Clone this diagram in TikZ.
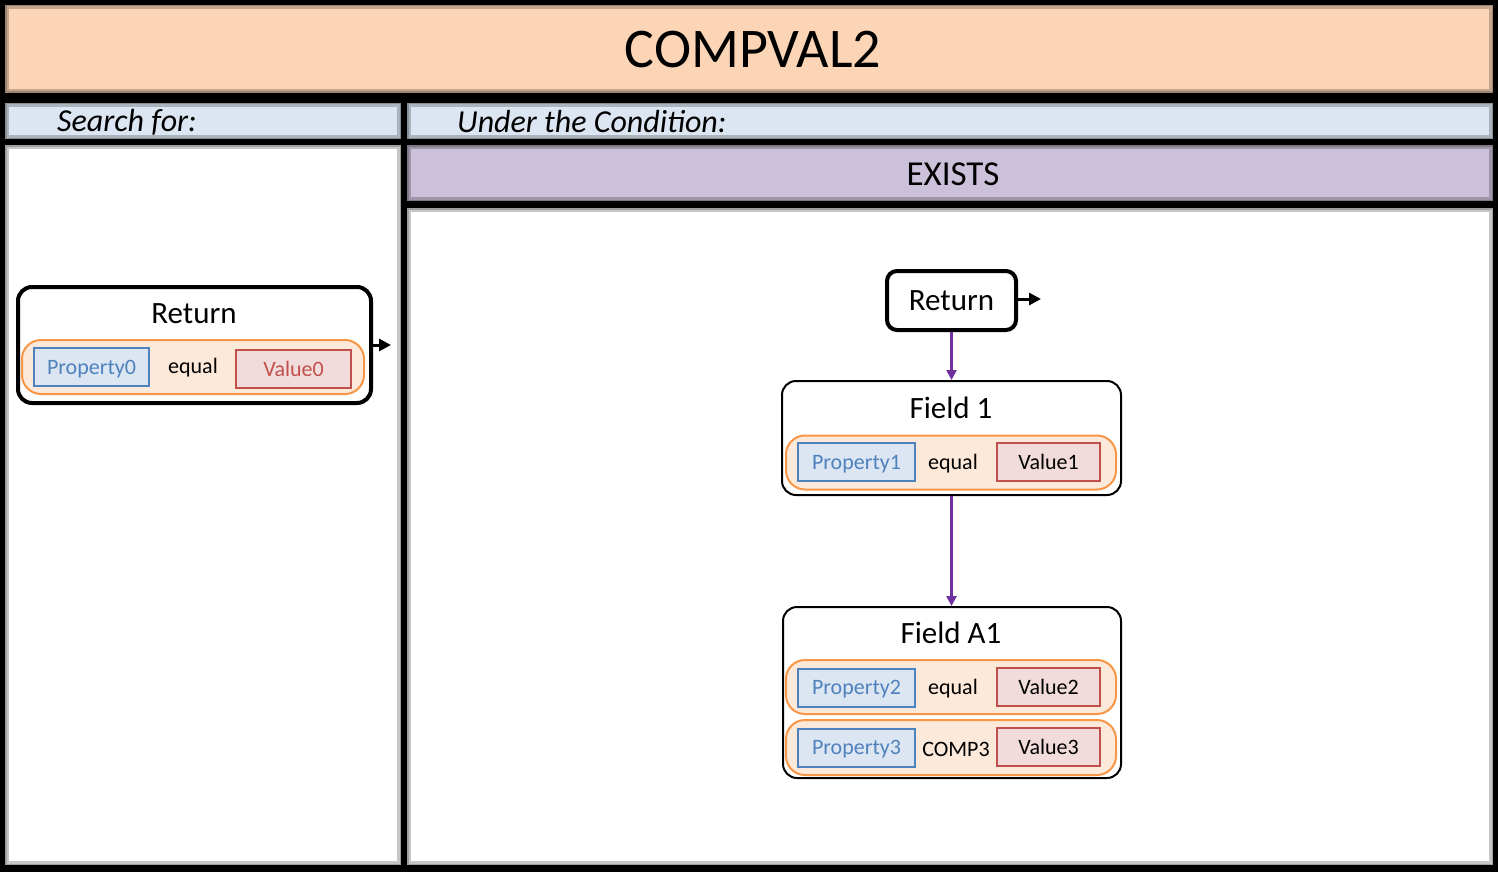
\documentclass[tikz,border=0pt]{standalone}
\usepackage{fontspec}
\setmainfont{Carlito}
\usepackage{tikz}
\usetikzlibrary{arrows.meta,positioning}
\definecolor{peach}{RGB}{251,213,181}
\definecolor{paleblue}{RGB}{220,230,242}
\definecolor{lavender}{RGB}{204,193,218}
\definecolor{rowfill}{RGB}{253,233,217}
\definecolor{rowedge}{RGB}{247,150,70}
\definecolor{propblue}{RGB}{79,129,189}
\definecolor{valfill}{RGB}{242,220,219}
\definecolor{valred}{RGB}{192,80,77}
\definecolor{flowpurple}{RGB}{112,48,160}
\newcommand{\fsz}[1]{\fontsize{#1}{#1}\selectfont}

\begin{document}
\begin{tikzpicture}[x=1pt,y=-1pt,
          panel/.style={draw=black,draw opacity=0.22,line width=8pt,inner sep=0pt,
                        postaction={draw=black,draw opacity=0.2,line width=3pt}},
          retbox/.style={draw=black,fill=white,line width=4pt,rounded corners=14pt,inner sep=0pt},
          fieldbox/.style={draw=black,fill=white,line width=2pt,rounded corners=14pt,inner sep=0pt},
          condrow/.style={draw=rowedge,fill=rowfill,line width=2pt,rounded corners=19pt,
                          minimum width=330pt,minimum height=54pt,inner sep=0pt},
          propbox/.style={draw=propblue,fill=paleblue,line width=2pt,text=propblue,
                          minimum width=117pt,minimum height=38pt,inner sep=0pt,font=\fsz{22}},
          valbox/.style={draw=valred,fill=valfill,line width=2pt,
                         minimum width=103pt,minimum height=38pt,inner sep=0pt,font=\fsz{22}},
          optext/.style={font=\fsz{22},inner sep=0pt,yshift=-2pt},
          flow/.style={-{Triangle[length=10pt,width=10pt]},line width=3.5pt,flowpurple},
          outarrow/.style={-{Triangle[length=12pt,width=12pt]},line width=3pt,black}]
  \useasboundingbox (0,0) rectangle (1498,872);
  \fill[black] (0,0) rectangle (1498,872);

  % frame panels
  \node[panel,fill=peach,minimum width=1488pt,minimum height=88pt] (title) at (749,49) {};
  \node[font=\fsz{56}] at (753,50) {COMPVAL2};
  \node[panel,fill=paleblue,minimum width=396pt,minimum height=36pt] (searchhd) at (203,121) {};
  \node[panel,fill=paleblue,minimum width=1086pt,minimum height=36pt] (condhd) at (950,121) {};
  \node[font=\fsz{32}\itshape,anchor=west,inner sep=0pt] at (57,122) {Search for:};
  \node[font=\fsz{32}\itshape,anchor=west,inner sep=0pt] at (457,122) {Under the Condition:};
  \node[panel,fill=white,minimum width=396pt,minimum height=720pt] (leftbody) at (203,505) {};
  \node[panel,fill=lavender,minimum width=1086pt,minimum height=56pt] (exists) at (950,173) {};
  \node[font=\fsz{35}] at (953,174) {EXISTS};
  \node[panel,fill=white,minimum width=1086pt,minimum height=657pt] (rightbody) at (950,536.5) {};

  % search for: return box
  \node[retbox,minimum width=353pt,minimum height=116pt] (ret0) at (194.5,345) {};
  \node[font=\fsz{31}] (ret0t) at (194,314) {Return};
  \node[condrow,minimum width=342pt] (c0) at (193,367) {};
  \node[propbox,minimum width=115pt,text depth=0pt] (p0) at (91.5,367) {Property0};
  \node[optext] (o0) at (193,366) {equal};
  \node[valbox,minimum width=115pt,text=valred,text depth=0pt] (v0) at (293.5,369) {Value0};
  \coordinate (out0) at (391,345);
  \draw[outarrow] (ret0.east |- out0) -- (out0);

  % under the condition
  \node[retbox,rounded corners=10pt,minimum width=129pt,minimum height=59pt,font=\fsz{31}] (ret1) at (951.5,300.5) {Return};
  \coordinate (out1) at (1041,299);
  \draw[outarrow] (ret1.east |- out1) -- (out1);

  \node[fieldbox,minimum width=339pt,minimum height=114pt] (f1) at (951.5,438) {};
  \node[font=\fsz{31}] (f1t) at (951,408) {Field 1};
  \node[condrow] (c1) at (951,462.5) {};
  \node[propbox,text depth=0pt] (p1) at (856.5,462) {Property1};
  \node[optext] (o1) at (953,462) {equal};
  \node[valbox,text depth=0pt] (v1) at (1048.5,462) {Value1};

  \node[fieldbox,minimum width=338pt,minimum height=171pt] (fa1) at (952,692.5) {};
  \node[font=\fsz{31}] (fa1t) at (951,633) {Field A1};
  \node[condrow] (c2) at (951,687) {};
  \node[propbox,text depth=0pt] (p2) at (856.5,687.5) {Property2};
  \node[optext] (o2) at (953,687) {equal};
  \node[valbox,text depth=0pt] (v2) at (1048.5,687) {Value2};
  \node[condrow,minimum height=55pt] (c3) at (951,747.5) {};
  \node[propbox,text depth=0pt] (p3) at (856.5,747.5) {Property3};
  \node[optext] (o3) at (956,747) {COMP3};
  \node[valbox,text depth=0pt] (v3) at (1048.5,747) {Value3};

  \draw[flow] (ret1.south) -- (f1.north -| ret1.south);
  \draw[flow] (f1.south -| ret1.south) -- (fa1.north -| ret1.south);
\end{tikzpicture}
\end{document}
